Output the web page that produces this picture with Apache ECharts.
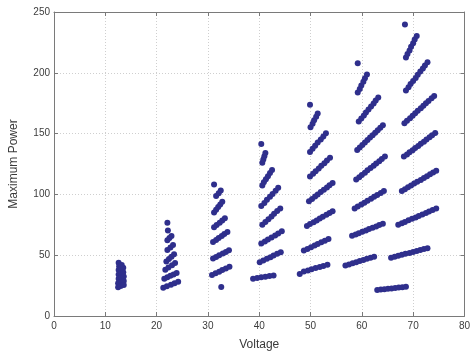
<!DOCTYPE html>
<html>
<head>
<meta charset="utf-8">
<script src="https://cdn.jsdelivr.net/npm/echarts@6/dist/echarts.min.js"></script>
<style>
  html, body { margin: 0; padding: 0; background: #ffffff; }
  #chart { width: 473px; height: 356px; }
</style>
</head>
<body>
<div id="chart"></div>
<script>
// Axis ticks
const xTicks = [0, 10, 20, 30, 40, 50, 60, 70, 80];
const yTicks = [0, 50, 100, 150, 200, 250];

// Operating points [voltage, maximum power], grouped by voltage band
const band13V = [
  [12.6, 43.7], [12.7, 41.0], [13.2, 42.0],
  [12.6, 37.8], [13.1, 38.8], [13.5, 39.6],
  [12.6, 34.2], [13.1, 35.2], [13.5, 36.0],
  [12.6, 30.6], [13.1, 31.6], [13.6, 32.4],
  [12.5, 27.0], [13.1, 28.0], [13.6, 28.8],
  [12.5, 23.6], [13.0, 24.6], [13.6, 25.4]
];

const band22V = [
  [22.1, 76.6], [22.2, 70.4],
  [22.1, 62.3], [22.5, 64.1], [22.9, 65.8],
  [22.1, 54.2], [22.7, 56.3], [23.2, 58.3],
  [21.9, 44.8], [22.4, 46.8], [22.9, 48.8], [23.4, 50.8],
  [21.7, 38.0], [22.3, 39.8], [23.0, 41.7], [23.6, 43.5],
  [21.5, 30.7], [22.1, 31.9], [22.7, 33.0], [23.3, 34.2], [23.9, 35.3],
  [21.3, 23.2], [22.0, 24.4], [22.8, 25.7], [23.5, 26.9], [24.2, 28.1]
];

const band31V = [
  [31.2, 108.2],
  [31.6, 98.7], [32.1, 101.0], [32.5, 103.3],
  [31.2, 85.2], [31.6, 87.4], [32.0, 89.6], [32.4, 91.7], [32.8, 93.9],
  [31.2, 73.0], [31.7, 74.8], [32.3, 76.7], [32.8, 78.5], [33.3, 80.3],
  [31.0, 60.9], [31.6, 62.5], [32.1, 64.1], [32.7, 65.8], [33.2, 67.4], [33.8, 69.0],
  [31.0, 47.3], [31.6, 48.6], [32.2, 50.0], [32.9, 51.3], [33.5, 52.7], [34.1, 54.0],
  [30.8, 33.7], [31.5, 35.1], [32.2, 36.4], [32.8, 37.8], [33.5, 39.1], [34.2, 40.5],
  [32.6, 23.9]
];

const band41V = [
  [40.4, 141.4],
  [40.6, 126.0], [40.8, 128.7], [41.0, 131.4], [41.2, 134.1],
  [40.6, 107.4], [40.9, 109.9], [41.3, 112.5], [41.7, 115.0], [42.1, 117.6], [42.5, 120.1],
  [40.4, 90.5], [41.0, 93.0], [41.5, 95.5], [42.1, 98.0], [42.6, 100.4], [43.2, 102.9], [43.7, 105.4],
  [40.6, 75.0], [41.2, 77.3], [41.8, 79.5], [42.4, 81.8], [42.9, 84.0], [43.5, 86.3], [44.1, 88.5],
  [40.4, 59.6], [41.1, 61.3], [41.7, 62.9], [42.4, 64.6], [43.1, 66.3], [43.7, 67.9], [44.4, 69.6],
  [40.1, 44.3], [40.8, 45.7], [41.5, 47.0], [42.2, 48.4], [42.8, 49.8], [43.5, 51.1], [44.2, 52.5],
  [38.8, 30.7], [39.6, 31.2], [40.4, 31.8], [41.2, 32.3], [42.0, 32.9], [42.8, 33.4]
];

const band50V = [
  [49.9, 173.7],
  [50.0, 155.3], [50.4, 158.1], [50.7, 161.0], [51.1, 163.8], [51.4, 166.6],
  [49.9, 134.9], [50.4, 137.5], [50.9, 140.0], [51.4, 142.6], [52.0, 145.1], [52.5, 147.7], [53.0, 150.2],
  [49.9, 114.7], [50.5, 116.9], [51.0, 119.1], [51.6, 121.3], [52.1, 123.5], [52.7, 125.7], [53.2, 127.9], [53.8, 130.1],
  [49.7, 94.4], [50.3, 96.3], [50.9, 98.2], [51.4, 100.0], [52.0, 101.9], [52.6, 103.8], [53.2, 105.7], [53.7, 107.5], [54.3, 109.4],
  [49.3, 74.1], [49.9, 75.6], [50.6, 77.1], [51.2, 78.6], [51.8, 80.2], [52.4, 81.7], [53.1, 83.2], [53.7, 84.7], [54.3, 86.2],
  [48.7, 53.8], [49.4, 55.2], [50.1, 56.5], [50.8, 57.9], [51.4, 59.2], [52.1, 60.6], [52.8, 61.9], [53.5, 63.3],
  [47.9, 34.5],
  [48.7, 36.6], [49.5, 37.5], [50.2, 38.4], [51.0, 39.4], [51.8, 40.3], [52.5, 41.2], [53.3, 42.1]
];

const band59V = [
  [59.2, 207.9],
  [59.2, 183.7], [59.6, 186.7], [59.9, 189.6], [60.3, 192.6], [60.6, 195.5], [61.0, 198.5],
  [59.4, 160.0], [59.9, 162.5], [60.4, 164.9], [60.8, 167.4], [61.3, 169.8], [61.8, 172.3], [62.3, 174.7], [62.7, 177.2], [63.2, 179.6],
  [59.1, 136.5], [59.6, 138.5], [60.1, 140.6], [60.6, 142.6], [61.1, 144.7], [61.6, 146.7], [62.1, 148.7], [62.6, 150.8], [63.1, 152.8], [63.6, 154.9], [64.1, 156.9],
  [58.9, 112.2], [59.5, 114.1], [60.0, 116.0], [60.6, 117.9], [61.1, 119.8], [61.7, 121.7], [62.3, 123.5], [62.8, 125.4], [63.4, 127.3], [63.9, 129.2], [64.5, 131.1],
  [58.6, 88.4], [59.2, 90.0], [59.9, 91.6], [60.5, 93.2], [61.1, 94.8], [61.8, 96.4], [62.4, 98.0], [63.0, 99.6], [63.7, 101.2], [64.3, 102.8],
  [58.1, 65.9], [58.8, 67.0], [59.4, 68.1], [60.1, 69.2], [60.8, 70.3], [61.4, 71.5], [62.1, 72.6], [62.8, 73.7], [63.4, 74.8], [64.1, 75.9],
  [56.8, 41.5], [57.5, 42.4], [58.2, 43.3], [58.9, 44.2], [59.6, 45.2], [60.3, 46.1], [61.0, 47.0], [61.7, 47.9], [62.4, 48.8]
];

const band68V = [
  [68.4, 239.7],
  [68.6, 212.5], [68.9, 215.5], [69.3, 218.4], [69.6, 221.4], [70.0, 224.4], [70.3, 227.3], [70.7, 230.3],
  [68.6, 185.5], [69.1, 188.1], [69.5, 190.7], [70.0, 193.2], [70.5, 195.8], [70.9, 198.4], [71.4, 201.0], [71.9, 203.5], [72.3, 206.1], [72.8, 208.7],
  [68.3, 158.6], [68.8, 160.6], [69.4, 162.7], [69.9, 164.7], [70.4, 166.7], [70.9, 168.8], [71.5, 170.8], [72.0, 172.9], [72.5, 174.9], [73.0, 176.9], [73.6, 179.0], [74.1, 181.0],
  [68.2, 131.1], [68.8, 132.9], [69.3, 134.6], [69.9, 136.4], [70.4, 138.2], [71.0, 139.9], [71.5, 141.7], [72.1, 143.4], [72.6, 145.2], [73.2, 147.0], [73.7, 148.7], [74.3, 150.5],
  [67.8, 102.8], [68.4, 104.3], [69.0, 105.8], [69.6, 107.4], [70.2, 108.9], [70.8, 110.4], [71.5, 111.9], [72.1, 113.4], [72.7, 114.9], [73.3, 116.5], [73.9, 118.0], [74.5, 119.5],
  [67.1, 75.0], [67.8, 76.2], [68.4, 77.4], [69.1, 78.7], [69.8, 79.9], [70.5, 81.1], [71.1, 82.3], [71.8, 83.5], [72.5, 84.7], [73.1, 86.0], [73.8, 87.2], [74.5, 88.4],
  [65.7, 48.0], [66.4, 48.8], [67.1, 49.6], [67.8, 50.3], [68.5, 51.1], [69.3, 51.9], [70.0, 52.7], [70.7, 53.5], [71.4, 54.2], [72.1, 55.0], [72.8, 55.8],
  [63.0, 21.3], [63.7, 21.8], [64.4, 22.1], [65.1, 22.4], [65.8, 22.7], [66.5, 23.1], [67.2, 23.4], [67.9, 23.7], [68.6, 24.0]
];

const allPoints = [].concat(band13V, band22V, band31V, band41V, band50V, band59V, band68V);

const FONT = '"Liberation Sans", Arial, Helvetica, sans-serif';
const AXIS_COLOR = '#7a7a7a';
const GRID_COLOR = '#cfcfcf';
const DOT_COLOR = '#2f2f8c';

const xMin = xTicks[0], xMax = xTicks[xTicks.length - 1], xStep = xTicks[1] - xTicks[0];
const yMin = yTicks[0], yMax = yTicks[yTicks.length - 1], yStep = yTicks[1] - yTicks[0];

function frameAxis(extra) {
  return Object.assign({
    type: 'value',
    axisLine: { show: true, onZero: false, lineStyle: { color: AXIS_COLOR, width: 1 } },
    axisTick: { show: true, inside: true, length: 4, lineStyle: { color: AXIS_COLOR } },
    axisLabel: { show: false },
    splitLine: { show: false }
  }, extra);
}

const chart = echarts.init(document.getElementById('chart'), null, { renderer: 'canvas' });
chart.setOption({
  animation: false,
  backgroundColor: '#ffffff',
  grid: { left: 52, right: 3, top: 12, bottom: 34, containLabel: false },
  xAxis: [
    frameAxis({
      position: 'bottom',
      min: xMin, max: xMax, interval: xStep,
      name: 'Voltage',
      nameLocation: 'middle',
      nameGap: 23,
      nameTextStyle: { fontFamily: FONT, fontSize: 12, color: '#3a3a3a' },
      axisLabel: { show: true, margin: 5, fontFamily: FONT, fontSize: 10, color: '#3c3c3c' },
      splitLine: { show: true, lineStyle: { color: GRID_COLOR, type: [1, 2], width: 1 } }
    }),
    frameAxis({ position: 'top', min: xMin, max: xMax, interval: xStep })
  ],
  yAxis: [
    frameAxis({
      position: 'left',
      min: yMin, max: yMax, interval: yStep,
      name: 'Maximum Power',
      nameLocation: 'middle',
      nameGap: 34,
      nameRotate: 90,
      nameTextStyle: { fontFamily: FONT, fontSize: 12, color: '#3a3a3a' },
      axisLabel: { show: true, margin: 4, fontFamily: FONT, fontSize: 10, color: '#3c3c3c' },
      splitLine: { show: true, lineStyle: { color: GRID_COLOR, type: [1, 2], width: 1 } }
    }),
    frameAxis({ position: 'right', min: yMin, max: yMax, interval: yStep })
  ],
  series: [{
    type: 'scatter',
    xAxisIndex: 0,
    yAxisIndex: 0,
    symbol: 'circle',
    symbolSize: 6,
    itemStyle: { color: DOT_COLOR, opacity: 1 },
    data: allPoints,
    silent: true
  }]
});
</script>
</body>
</html>
